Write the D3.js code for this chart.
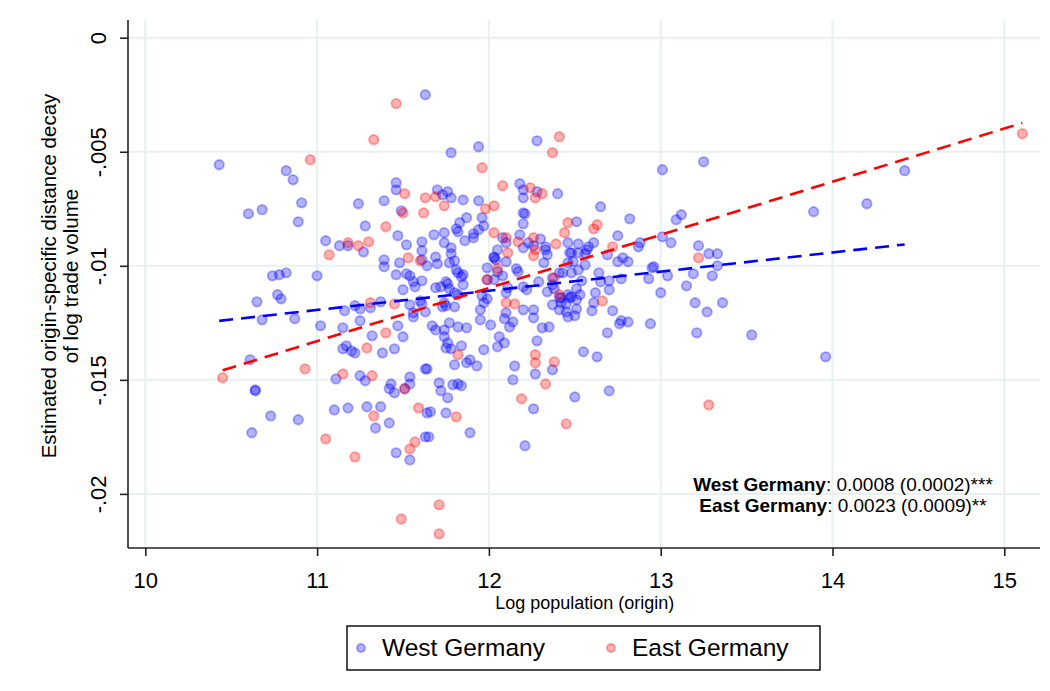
<!DOCTYPE html>
<html>
<head>
<meta charset="utf-8">
<script src="https://cdn.jsdelivr.net/npm/d3@7"></script>
<style>
  body { margin: 0; background: #fff; }
  svg { display: block; }
  text { font-family: "Liberation Sans", Arial, sans-serif; fill: #000; }
</style>
</head>
<body>
<svg id="chart" width="1050" height="691"></svg>
<script>
// Log population of origin region and its estimated distance-decay coefficient
const westLogPop = [
11.63,10.43,10.82,10.86,10.60,10.68,10.91,10.89,11.46,11.46,
11.24,11.39,11.49,11.28,11.47,11.52,11.61,11.05,11.13,11.18,
11.27,11.39,11.48,11.61,11.61,10.74,10.78,10.82,11.00,11.46,
11.52,11.54,11.56,11.57,11.61,11.50,10.77,10.79,10.65,10.68,
10.87,11.02,11.15,11.16,11.22,11.25,11.31,11.37,11.25,11.47,
11.54,11.56,11.56,11.60,11.63,11.32,11.50,11.17,11.15,11.20,
11.22,11.38,11.45,10.61,10.64,10.64,11.11,11.25,11.28,11.43,
11.42,11.45,11.54,11.54,11.51,11.63,10.73,10.89,10.62,11.10,
11.18,11.29,11.37,11.34,11.42,11.64,11.46,11.54,11.63,12.28,
11.78,11.94,12.18,12.20,12.20,12.28,12.40,11.70,11.73,11.76,
11.78,11.85,11.94,11.68,11.74,11.74,11.81,11.83,11.87,11.82,
11.86,11.91,11.91,11.94,11.96,11.97,11.78,12.08,12.10,12.20,
12.21,12.20,12.30,12.33,12.51,12.46,12.52,11.69,11.70,11.64,
11.78,11.80,11.77,11.81,11.82,11.85,12.05,12.03,12.04,12.10,
12.18,12.20,12.23,12.26,12.33,12.34,12.32,12.48,12.52,12.46,
12.49,11.39,11.69,11.72,11.75,11.76,11.77,11.80,11.80,11.82,
11.85,11.84,11.74,11.75,11.73,11.61,11.67,11.69,11.74,11.77,
11.82,11.87,11.74,11.76,11.75,11.78,11.84,11.80,11.87,11.89,
11.93,11.64,11.71,11.72,11.79,11.82,11.84,11.76,11.99,12.03,
12.05,12.08,12.03,11.99,11.95,11.95,12.01,11.96,11.97,11.99,
12.10,12.11,12.17,12.16,12.20,12.22,12.10,12.09,12.14,12.12,
12.09,12.06,12.05,12.20,12.26,12.26,12.31,12.35,12.28,11.97,
12.15,12.14,12.27,12.37,12.29,12.34,12.37,12.37,12.43,12.48,
12.52,12.37,12.42,12.45,12.46,12.51,12.51,12.48,12.46,12.38,
12.42,12.50,11.66,11.75,11.89,11.65,12.26,12.21,13.01,13.25,
12.65,12.82,13.09,13.12,12.61,12.58,12.75,12.88,12.87,13.01,
13.06,13.22,12.47,12.57,12.56,12.56,12.69,12.75,12.78,12.81,
12.96,12.95,13.28,13.33,13.33,13.30,12.41,12.54,12.64,12.65,
12.70,12.77,12.93,13.04,13.19,13.15,13.00,12.51,12.53,12.47,
12.41,12.62,12.70,12.45,12.41,12.60,12.61,12.72,12.50,13.20,
13.27,13.36,12.77,12.76,12.81,12.94,12.69,13.21,13.53,12.55,
12.63,12.70,14.42,14.20,13.89,13.96
];
const westDecay = [
-0.00250,-0.00557,-0.00583,-0.00623,-0.00772,-0.00754,-0.00724,-0.00807,-0.00636,-0.00667,
-0.00728,-0.00715,-0.00759,-0.00825,-0.00868,-0.00908,-0.00895,-0.00890,-0.00912,-0.00912,
-0.00939,-0.00974,-0.00987,-0.00934,-0.00974,-0.01044,-0.01039,-0.01031,-0.01044,-0.01039,
-0.01035,-0.01044,-0.01070,-0.01092,-0.01066,-0.01105,-0.01127,-0.01145,-0.01158,-0.01237,
-0.01232,-0.01263,-0.01272,-0.01197,-0.01175,-0.01189,-0.01184,-0.01158,-0.01241,-0.01263,
-0.01171,-0.01224,-0.01206,-0.01154,-0.01202,-0.01307,-0.01311,-0.01351,-0.01364,-0.01373,
-0.01382,-0.01382,-0.01364,-0.01412,-0.01544,-0.01548,-0.01496,-0.01482,-0.01504,-0.01518,
-0.01539,-0.01557,-0.01487,-0.01518,-0.01539,-0.01452,-0.01658,-0.01675,-0.01732,-0.01632,
-0.01623,-0.01618,-0.01618,-0.01711,-0.01689,-0.01645,-0.01820,-0.01851,-0.01750,-0.00452,
-0.00504,-0.00478,-0.00640,-0.00667,-0.00702,-0.00675,-0.00684,-0.00667,-0.00689,-0.00675,
-0.00702,-0.00711,-0.00715,-0.00864,-0.00855,-0.00899,-0.00838,-0.00811,-0.00789,-0.00851,
-0.00890,-0.00860,-0.00877,-0.00842,-0.00789,-0.00825,-0.00921,-0.00877,-0.00899,-0.00816,
-0.00772,-0.00768,-0.00882,-0.00917,-0.00807,-0.00899,-0.00904,-0.00961,-0.00991,-0.01000,
-0.00947,-0.00978,-0.00987,-0.01018,-0.01031,-0.01039,-0.00930,-0.00961,-0.00974,-0.00982,
-0.00864,-0.00921,-0.00899,-0.00912,-0.00930,-0.00952,-0.00987,-0.00943,-0.00943,-0.00987,
-0.00982,-0.01004,-0.01096,-0.01092,-0.01070,-0.01079,-0.01101,-0.01118,-0.01180,-0.01127,
-0.01083,-0.01048,-0.01162,-0.01175,-0.01180,-0.01167,-0.01263,-0.01281,-0.01281,-0.01250,
-0.01268,-0.01272,-0.01311,-0.01338,-0.01360,-0.01364,-0.01351,-0.01434,-0.01425,-0.01412,
-0.01439,-0.01452,-0.01513,-0.01548,-0.01522,-0.01518,-0.01526,-0.01579,-0.01009,-0.00965,
-0.01026,-0.01044,-0.01061,-0.01061,-0.01193,-0.01237,-0.01259,-0.01132,-0.01162,-0.01145,
-0.01118,-0.01096,-0.01026,-0.01013,-0.01092,-0.01105,-0.01206,-0.01232,-0.01246,-0.01268,
-0.01338,-0.01311,-0.01355,-0.01193,-0.01193,-0.01228,-0.01272,-0.01268,-0.01329,-0.01368,
-0.01439,-0.01500,-0.01474,-0.01456,-0.01070,-0.01114,-0.01083,-0.01053,-0.01031,-0.01031,
-0.01018,-0.01171,-0.01162,-0.01202,-0.01224,-0.01189,-0.01149,-0.01136,-0.01127,-0.01101,
-0.01140,-0.01575,-0.01640,-0.01645,-0.01732,-0.01750,-0.01627,-0.01789,-0.00579,-0.00544,
-0.00741,-0.00794,-0.00798,-0.00776,-0.00899,-0.00917,-0.00868,-0.00899,-0.00917,-0.00873,
-0.00899,-0.00912,-0.00943,-0.00930,-0.00996,-0.00947,-0.00952,-0.00982,-0.00965,-0.00982,
-0.01004,-0.01009,-0.00947,-0.00947,-0.01000,-0.01044,-0.01031,-0.01066,-0.01031,-0.01070,
-0.01066,-0.01057,-0.01057,-0.01044,-0.01035,-0.01088,-0.01118,-0.01101,-0.01127,-0.01140,
-0.01140,-0.01118,-0.01105,-0.01167,-0.01193,-0.01197,-0.01162,-0.01197,-0.01219,-0.01162,
-0.01202,-0.01162,-0.01241,-0.01254,-0.01246,-0.01254,-0.01294,-0.01294,-0.01303,-0.01377,
-0.01399,-0.01548,-0.00583,-0.00728,-0.00763,-0.01399
];
const eastLogPop = [
11.46,11.33,10.96,11.51,11.50,11.62,11.63,11.40,11.18,11.24,
11.30,11.07,11.53,11.60,11.31,11.45,11.40,11.29,10.93,10.45,
11.15,11.32,11.51,11.33,11.05,11.59,11.57,11.54,11.22,11.49,
12.41,12.37,11.96,12.08,12.24,12.27,12.31,11.69,11.74,11.98,
12.03,12.03,12.10,12.17,12.26,12.39,12.46,12.44,12.11,12.26,
12.27,11.82,11.99,12.05,12.10,12.15,12.27,12.27,12.38,12.33,
12.38,12.41,12.19,11.81,11.71,11.71,12.45,12.63,12.61,12.72,
13.22,12.66,13.28,15.105
];
const eastDecay = [
-0.00289,-0.00447,-0.00535,-0.00684,-0.00768,-0.00768,-0.00702,-0.00829,-0.00899,-0.00912,
-0.00895,-0.00952,-0.00965,-0.00978,-0.01162,-0.01167,-0.01294,-0.01360,-0.01452,-0.01491,
-0.01474,-0.01482,-0.01539,-0.01658,-0.01759,-0.01623,-0.01772,-0.01803,-0.01838,-0.02110,
-0.00434,-0.00504,-0.00570,-0.00649,-0.00658,-0.00702,-0.00684,-0.00697,-0.00737,-0.00750,
-0.00737,-0.00855,-0.00877,-0.00895,-0.00877,-0.00904,-0.00811,-0.00855,-0.00943,-0.00956,
-0.00930,-0.01390,-0.01061,-0.01013,-0.01162,-0.01167,-0.01390,-0.01425,-0.01421,-0.01518,
-0.01053,-0.01127,-0.01583,-0.01662,-0.02048,-0.02175,-0.01693,-0.00820,-0.00838,-0.00917,
-0.00965,-0.01154,-0.01610,-0.00421
];

// Axis ticks and labels
const xTicks = [10, 11, 12, 13, 14, 15];
const yTicks = [0, -0.005, -0.01, -0.015, -0.02];
const yTickLabels = ["0", "-.005", "-.01", "-.015", "-.02"];

// Group names, linear-fit coefficients, standard errors and significance stars
const groups = ["West Germany", "East Germany"];
const groupColors = ["#0000ff", "#ff0000"];
const fitSlopes = [0.00084, 0.00233];
const fitIntercepts = [-0.021176, -0.038931];
const fitStdErrs = [0.0002, 0.0009];
const fitStars = ["***", "**"];

const svg = d3.select("#chart");
const W = 1050, H = 691;
svg.append("rect").attr("width", W).attr("height", H).attr("fill", "#fff");

const plot = { left: 128, right: 1040, top: 20, bottom: 548 };
const x = d3.scaleLinear().domain([10, 15]).range([145.3, 1004.3]);
const y = d3.scaleLinear().domain([0, -0.02]).range([37.7, 493.9]);

// Grid lines
const grid = svg.append("g").attr("stroke", "#e9f0f1").attr("stroke-width", 2);
grid.selectAll("line.gx").data(xTicks).join("line")
  .attr("x1", d => x(d)).attr("x2", d => x(d))
  .attr("y1", plot.top).attr("y2", plot.bottom);
grid.selectAll("line.gy").data(yTicks).join("line")
  .attr("x1", plot.left).attr("x2", plot.right)
  .attr("y1", d => y(d)).attr("y2", d => y(d));

// Scatter points
const series = [
  { name: groups[0], color: groupColors[0], xs: westLogPop, ys: westDecay },
  { name: groups[1], color: groupColors[1], xs: eastLogPop, ys: eastDecay }
];
series.forEach(s => {
  const pts = s.xs.map((v, i) => [v, s.ys[i]]);
  svg.append("g").selectAll("circle").data(pts).join("circle")
    .attr("cx", d => x(d[0])).attr("cy", d => y(d[1]))
    .attr("r", 4.7)
    .attr("fill", s.color).attr("fill-opacity", 0.3)
    .attr("stroke", s.color).attr("stroke-opacity", 0.32).attr("stroke-width", 1.9);
});

// Linear fits over each group's observed range
series.forEach((s, i) => {
  const ext = d3.extent(s.xs);
  const line = d3.line().x(d => x(d)).y(d => y(fitIntercepts[i] + fitSlopes[i] * d));
  svg.append("path").datum(ext)
    .attr("d", line)
    .attr("fill", "none").attr("stroke", s.color)
    .attr("stroke-width", 2.6).attr("stroke-dasharray", "14 8");
});

// Axes
const xAxis = svg.append("g").attr("transform", `translate(0,${plot.bottom})`)
  .call(d3.axisBottom(x).tickValues(xTicks).tickSize(8).tickPadding(8).tickFormat(d3.format("d")));
xAxis.select(".domain").attr("d", `M${plot.left},0H${plot.right}`).attr("stroke", "#222").attr("stroke-width", 1.6);
xAxis.selectAll(".tick line").attr("stroke", "#222").attr("stroke-width", 1.6);
xAxis.selectAll(".tick text").attr("font-size", 22).attr("dy", null).attr("y", 40)
  .attr("font-family", "Liberation Sans, Arial, sans-serif");

const yAxis = svg.append("g").attr("transform", `translate(${plot.left},0)`)
  .call(d3.axisLeft(y).tickValues(yTicks).tickSize(8).tickFormat((d, i) => yTickLabels[i]));
yAxis.select(".domain").attr("d", `M0,${plot.top}V${plot.bottom}`).attr("stroke", "#222").attr("stroke-width", 1.6);
yAxis.selectAll(".tick line").attr("stroke", "#222").attr("stroke-width", 1.6);
yAxis.selectAll(".tick text")
  .attr("font-size", 22).attr("font-family", "Liberation Sans, Arial, sans-serif")
  .attr("text-anchor", "middle").attr("transform", "rotate(-90)")
  .attr("x", 0).attr("y", -22).attr("dy", null);

// Axis titles
svg.append("text").attr("x", (x(10) + x(15)) / 2 + 10).attr("y", 609)
  .attr("text-anchor", "middle").attr("font-size", 18)
  .text("Log population (origin)");
const yTitle = svg.append("text").attr("transform", "translate(0,276) rotate(-90)")
  .attr("text-anchor", "middle").attr("font-size", 20.5);
yTitle.append("tspan").attr("x", 0).attr("y", 56).text("Estimated origin-specific distance decay");
yTitle.append("tspan").attr("x", 0).attr("y", 78).text("of log trade volume");

// Fit coefficients note
const fmt = d3.format(".4f");
series.forEach((s, i) => {
  const t = svg.append("text").attr("x", 843).attr("y", 491 + i * 21)
    .attr("text-anchor", "middle").attr("font-size", 19);
  t.append("tspan").attr("font-weight", "bold").text(s.name);
  t.append("tspan").text(`: ${fmt(fitSlopes[i])} (${fmt(fitStdErrs[i])})${fitStars[i]}`);
});

// Legend
const legend = svg.append("g");
legend.append("rect").attr("x", 347).attr("y", 626).attr("width", 473).attr("height", 44)
  .attr("fill", "#fff").attr("stroke", "#111").attr("stroke-width", 1.5);
const legendX = [361, 611];
series.forEach((s, i) => {
  legend.append("circle").attr("cx", legendX[i]).attr("cy", 648).attr("r", 4)
    .attr("fill", s.color).attr("fill-opacity", 0.3)
    .attr("stroke", s.color).attr("stroke-opacity", 0.32).attr("stroke-width", 1.9);
  legend.append("text").attr("x", legendX[i] + 21).attr("y", 656)
    .attr("font-size", 24.5).text(s.name);
});
</script>
</body>
</html>
